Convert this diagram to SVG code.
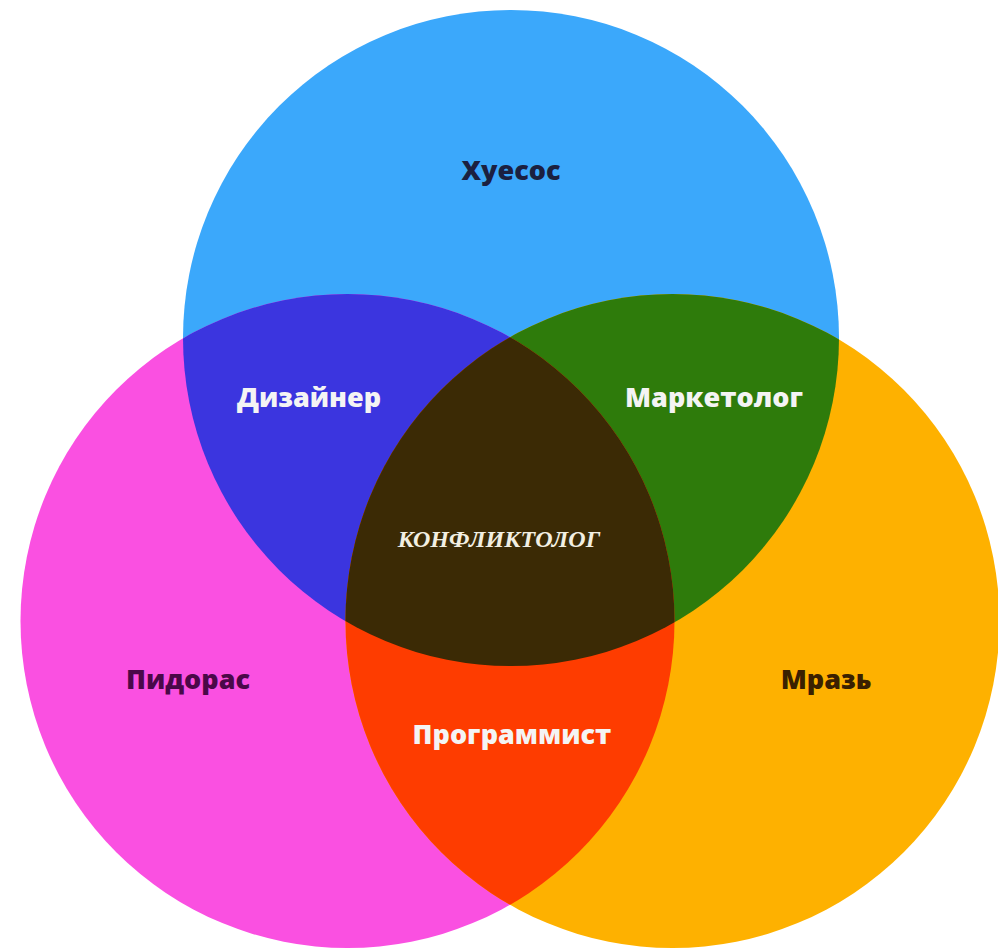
<svg xmlns="http://www.w3.org/2000/svg" width="998" height="952" viewBox="0 0 998 952">
<style>
.lbl{font-family:"Open Sans","Noto Sans","Liberation Sans",sans-serif;font-weight:800;font-size:27px;text-anchor:middle}
.w{fill:#f4f4f4}
.c{font-family:"Liberation Serif","DejaVu Serif",serif;font-style:italic;font-weight:bold;font-size:24px;fill:#f2efe2;text-anchor:middle}
</style>
<defs>
<clipPath id="cb"><circle cx="511" cy="338" r="328"/></clipPath>
<clipPath id="cp"><circle cx="347.5" cy="621" r="327"/></clipPath>
</defs>
<rect width="998" height="952" fill="#ffffff"/>
<g id="blue"><circle cx="511" cy="338" r="328" fill="#3ba8fb"/></g>
<g id="pink"><circle cx="347.5" cy="621" r="327" fill="#fa50e1"/></g>
<g id="orange"><circle cx="672.5" cy="621" r="327" fill="#feb100"/></g>
<g id="blue-pink" clip-path="url(#cb)"><circle cx="347.5" cy="621" r="327" fill="#3b35df"/></g>
<g id="blue-orange" clip-path="url(#cb)"><circle cx="672.5" cy="621" r="327" fill="#2e7b0b"/></g>
<g id="pink-orange" clip-path="url(#cp)"><circle cx="672.5" cy="621" r="327" fill="#fe3c00"/></g>
<g id="center" clip-path="url(#cb)"><g clip-path="url(#cp)"><circle cx="672.5" cy="621" r="327" fill="#3b2a05"/></g></g>
<g id="labels">
<text class="lbl" x="511" y="180" fill="#1b2040">Хуесос</text>
<text class="lbl w" x="309" y="407">Дизайнер</text>
<text class="lbl w" x="714" y="407">Маркетолог</text>
<text class="lbl" x="188" y="689" fill="#4a0848">Пидорас</text>
<text class="lbl" x="826" y="689" fill="#3a2000">Мразь</text>
<text class="lbl w" x="512" y="744">Программист</text>
<text class="c" x="499" y="547">КОНФЛИКТОЛОГ</text>
</g>
</svg>
